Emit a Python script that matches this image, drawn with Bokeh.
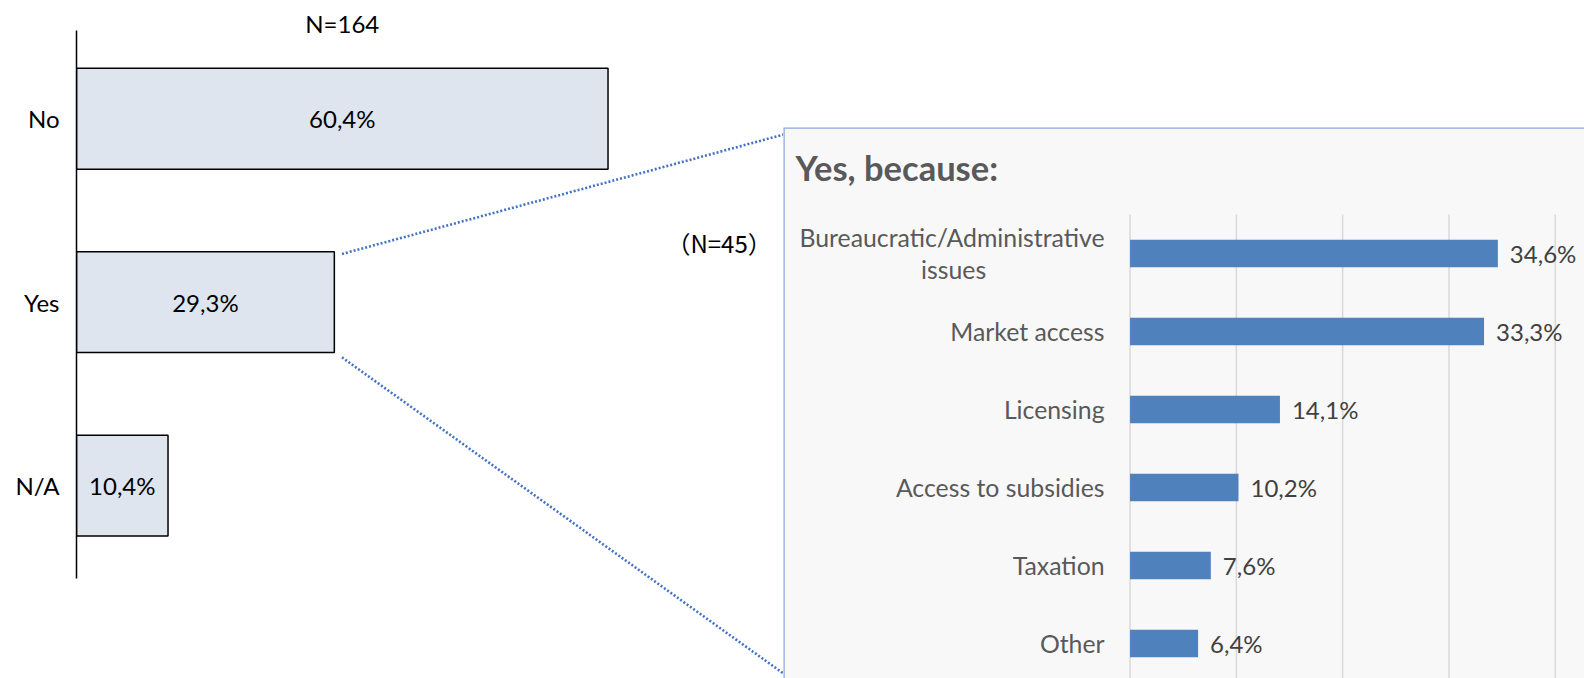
from bokeh.plotting import figure
from bokeh.models import Range1d, FixedTicker, Span, Spacer
from bokeh.layouts import row, column
from bokeh.core.properties import value
from bokeh.embed import file_html
from bokeh.resources import INLINE

# ---------------- data ----------------
main_cats = ["No", "Yes", "N/A"]
main_vals = [60.4, 29.3, 10.4]
main_labels = ["60,4%", "29,3%", "10,4%"]
main_title = "N=164"

sub_cats = ["Bureaucratic/Administrative issues", "Market access", "Licensing",
            "Access to subsidies", "Taxation", "Other"]
sub_vals = [34.6, 33.3, 14.1, 10.2, 7.6, 6.4]
sub_labels = ["34,6%", "33,3%", "14,1%", "10,2%", "7,6%", "6,4%"]
sub_title = "Yes, because:"
sub_n = "（N=45）"
sub_ticks = [0, 10, 20, 30, 40]

FONT = value("Lato")

# ---------------- left chart ----------------
LW, LH = 783, 678
lx0, lx1 = 0, 80.34
ly0, ly1 = -1.052, 2.645
ly = [len(main_cats) - 1 - i for i in range(len(main_cats))]   # No on top
left = figure(width=LW, height=LH, output_backend="svg", toolbar_location=None,
              x_axis_location=None, x_range=Range1d(lx0, lx1), y_range=Range1d(ly0, ly1),
              min_border_left=76, min_border_right=0, min_border_top=0, min_border_bottom=0)
left.outline_line_color = None
left.grid.visible = False
left.background_fill_color = "white"
left.border_fill_color = "white"

left.hbar(y=ly, left=0, right=main_vals, height=0.55,
          fill_color="#dee5ef", line_color="black", line_width=1.5)
left.text(x=[v / 2 for v in main_vals], y=ly, text=main_labels,
          text_align="center", text_baseline="middle", text_font=FONT,
          text_font_size="24px", text_color="black")
left.text(x=[max(main_vals) / 2], y=[2.517], text=[main_title],
          text_align="center", text_baseline="middle", text_font=FONT,
          text_font_size="24px", text_color="black")

ax = left.yaxis[0]
ax.ticker = FixedTicker(ticks=ly)
ax.major_label_overrides = {y: c for y, c in zip(ly, main_cats)}
ax.bounds = (-0.505, 2.48)
ax.axis_line_color = "black"
ax.axis_line_width = 1.5
ax.major_tick_line_color = None
ax.minor_tick_line_color = None
ax.major_tick_out = 0
ax.major_tick_in = 0
ax.major_label_standoff = 17
ax.major_label_text_font = "Lato"
ax.major_label_text_font_size = "24px"
ax.major_label_text_color = "black"

# connectors from the "Yes" bar to the breakdown box
yes_i = main_cats.index("Yes")
yes_v = main_vals[yes_i]
yes_y = ly[yes_i]
left.segment(x0=[yes_v + 0.87, yes_v + 0.87], y0=[yes_y + 0.263, yes_y - 0.301],
             x1=[lx1, lx1], y1=[1.914, -1.025],
             line_color="#4472c4", line_width=2.6, line_dash="2 2")
left.text(x=[79.0], y=[1.327], text=[sub_n], text_align="right", text_baseline="middle",
          text_font=value("Noto Sans CJK SC"), text_font_size="24px", text_color="black")

# ---------------- right chart ----------------
RW, RH = 1584 - LW, 678 - 127
x0r, x1r = -32.60, 42.75
y0r, y1r = -0.449, 6.615
ry = [len(sub_cats) - 1 - i for i in range(len(sub_cats))]
right = figure(width=RW, height=RH, output_backend="svg", toolbar_location=None,
               x_axis_location=None, y_axis_location=None,
               x_range=Range1d(x0r, x1r), y_range=Range1d(y0r, y1r),
               min_border=0)
right.grid.visible = False
right.outline_line_color = None
right.background_fill_color = "#f8f8f8"
right.border_fill_color = "#f8f8f8"

right.segment(x0=sub_ticks, y0=[y0r - 1] * len(sub_ticks), x1=sub_ticks,
              y1=[len(sub_cats) - 0.5] * len(sub_ticks), line_color="#d9d9d9", line_width=1.5)
right.hbar(y=ry, left=0, right=sub_vals, height=0.355, fill_color="#4f81bd", line_color=None)
right.text(x=sub_vals, y=ry, text=sub_labels, x_offset=12, text_align="left",
           text_baseline="middle", text_font=FONT, text_font_size="24px", text_color="#404040")

# category labels (first one wraps onto two lines, centred under each other)
single = [(c, y) for c, y in zip(sub_cats, ry) if len(c) < 25]
right.text(x=[-2.4] * len(single), y=[y for _, y in single], text=[c for c, _ in single],
           text_align="right", text_baseline="middle", text_font=FONT,
           text_font_size="24.8px", text_color="#595959")
for c, y in zip(sub_cats, ry):
    if len(c) >= 25:
        a, b = c.rsplit(" ", 1)
        right.text(x=[-2.4], y=[y + 0.2], text=[a], text_align="right", text_baseline="middle",
                   text_font=FONT, text_font_size="24.8px", text_color="#595959")
        right.text(x=[-16.6], y=[y - 0.2], text=[b], text_align="center", text_baseline="middle",
                   text_font=FONT, text_font_size="24.8px", text_color="#595959")

right.text(x=[-31.47], y=[6.106], text=[sub_title], text_align="left",
           text_baseline="alphabetic", text_font=FONT, text_font_size="34.5px",
           text_font_style="bold", text_color="#595959")

right.add_layout(Span(location=x0r, dimension="height", line_color="#8eaadb", line_width=2.5))
right.add_layout(Span(location=y1r, dimension="width", line_color="#8eaadb", line_width=2.5))

layout = row(left, column(Spacer(width=RW, height=678 - RH), right))
open("out.html", "w").write(file_html(layout, INLINE))
